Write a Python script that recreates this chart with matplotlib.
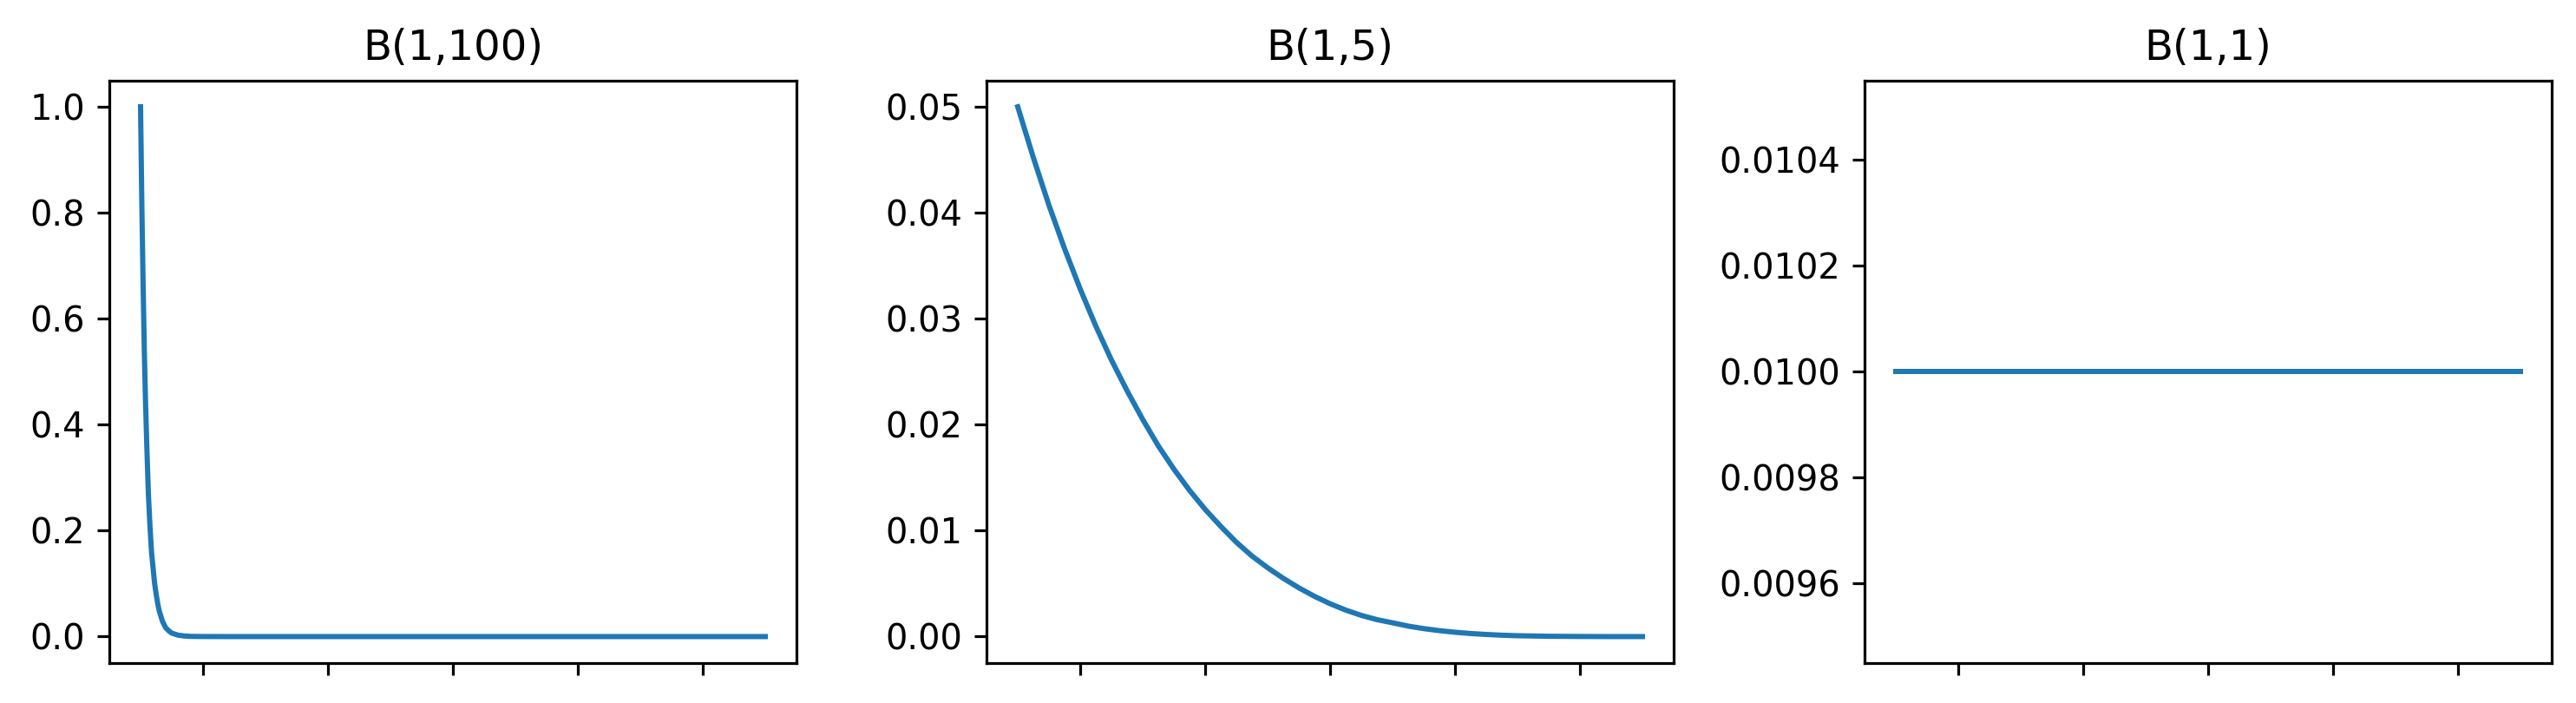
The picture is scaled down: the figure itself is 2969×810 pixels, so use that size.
import matplotlib
matplotlib.use("Agg")
import matplotlib.pyplot as plt

titles = ["B(1,100)", "B(1,5)", "B(1,1)"]

x_b100 = [0, 0.002, 0.004, 0.006, 0.008, 0.010, 0.0125, 0.015, 0.0175, 0.02, 0.0225,
          0.025, 0.0275, 0.03, 0.035, 0.04, 0.045, 0.05, 0.06, 0.07, 0.08, 0.1, 0.15, 1.0]
y_b100 = [1.0, 0.82, 0.67, 0.54, 0.44, 0.36, 0.27, 0.21, 0.16, 0.13, 0.10,
          0.08, 0.062, 0.048, 0.029, 0.017, 0.011, 0.0065, 0.0027, 0.0011, 0.0004,
          0.0001, 0.0, 0.0]

x_b5 = [0.000, 0.025, 0.050, 0.075, 0.100, 0.125, 0.150, 0.175, 0.200, 0.225,
        0.250, 0.275, 0.300, 0.325, 0.350, 0.375, 0.400, 0.425, 0.450, 0.475,
        0.500, 0.525, 0.550, 0.575, 0.600, 0.625, 0.650, 0.675, 0.700, 0.725,
        0.750, 0.775, 0.800, 0.850, 0.900, 0.950, 1.000]
y_b5 = [0.0500, 0.0452, 0.0407, 0.0366, 0.0328, 0.0293, 0.0261, 0.0232, 0.0205,
        0.0180, 0.0158, 0.0138, 0.0120, 0.0104, 0.0089, 0.0076, 0.0065, 0.0055,
        0.0046, 0.0038, 0.0031, 0.0025, 0.0020, 0.0016, 0.0013, 0.00099, 0.00075,
        0.00056, 0.00041, 0.00029, 0.00020, 0.00013, 0.00008, 0.00003, 0.00001,
        0.0000003, 0.0]

x_b1 = [0, 1.0]
y_b1 = [0.01, 0.01]

xticks = [0.1, 0.3, 0.5, 0.7, 0.9]

DPI = 288
fig = plt.figure(figsize=(2969 / DPI, 810 / DPI), dpi=DPI)
positions = [
    [0.04244, 0.0568, 0.26676, 0.829],
    [0.38296, 0.0568, 0.26676, 0.829],
    [0.72380, 0.0568, 0.26676, 0.829],
]
series = [(x_b100, y_b100), (x_b5, y_b5), (x_b1, y_b1)]
for pos, (xs, ys), t in zip(positions, series, titles):
    ax = fig.add_axes(pos)
    ax.plot(xs, ys, color="#1f77b4")
    ax.set_title(t)
    ax.set_xticks(xticks)
    ax.set_xticklabels([])

fig.savefig("out.png", dpi=DPI)
